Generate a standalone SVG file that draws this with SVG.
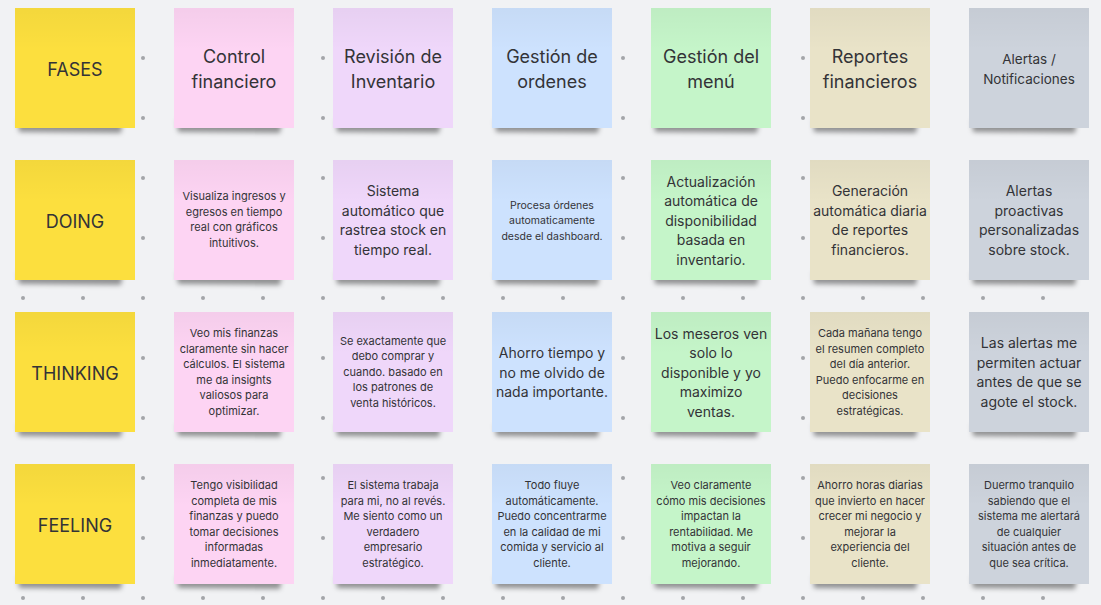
<svg xmlns="http://www.w3.org/2000/svg" width="1101" height="605" viewBox="0 0 1101 605">
<defs>
<pattern id="dots" x="23" y="58" width="60" height="60" patternUnits="userSpaceOnUse">
<circle cx="0" cy="0" r="2" fill="#a3a5a9"/>
<circle cx="60" cy="0" r="2" fill="#a3a5a9"/>
<circle cx="0" cy="60" r="2" fill="#a3a5a9"/>
<circle cx="60" cy="60" r="2" fill="#a3a5a9"/>
</pattern>
<filter id="blur" x="-20%" y="-200%" width="140%" height="500%"><feGaussianBlur stdDeviation="2.5"/></filter>
<linearGradient id="shade" x1="0" y1="0" x2="0" y2="1">
<stop offset="0" stop-color="#000" stop-opacity="0.035"/>
<stop offset="0.35" stop-color="#000" stop-opacity="0"/>
</linearGradient>
<g id="shadow"><path d="M3,112 L108,112 L106,125 L4,124 Z" fill="#000" fill-opacity="0.4" filter="url(#blur)"/></g>
</defs>
<style>
text{font-family:Inter,"Liberation Sans",Arial,sans-serif;fill:#333337;text-anchor:middle}
.h{font-size:18px}
.m{font-size:14px}
.s{font-size:11px}
.xs{font-size:10.5px}
.al{font-size:13.5px}
.y{fill:#fcdf3e}.p{fill:#fdd4f3}.l{fill:#efd7fa}.b{fill:#cde2fe}.g{fill:#c5f5c9}.e{fill:#e9e3c8}.k{fill:#cdd3dc}
</style>
<rect width="1101" height="605" fill="#f1f2f4"/>
<rect width="1101" height="605" fill="url(#dots)"/>
<g id="connectors"/>

<!-- Row 1 -->
<g id="n-fases" transform="translate(15,8)"><use href="#shadow"/><rect class="y" width="120" height="120"/><rect fill="url(#shade)" width="120" height="120"/><text class="h" x="60" y="67.5">FASES</text></g>
<g id="n-control" transform="translate(174,8)"><use href="#shadow"/><rect class="p" width="120" height="120"/><rect fill="url(#shade)" width="120" height="120"/><text class="h" x="60" y="55">Control</text><text class="h" x="60" y="80">financiero</text></g>
<g id="n-inventario" transform="translate(333,8)"><use href="#shadow"/><rect class="l" width="120" height="120"/><rect fill="url(#shade)" width="120" height="120"/><text class="h" x="60" y="55">Revisión de</text><text class="h" x="60" y="80">Inventario</text></g>
<g id="n-ordenes" transform="translate(492,8)"><use href="#shadow"/><rect class="b" width="120" height="120"/><rect fill="url(#shade)" width="120" height="120"/><text class="h" x="60" y="55">Gestión de</text><text class="h" x="60" y="80">ordenes</text></g>
<g id="n-menu" transform="translate(651,8)"><use href="#shadow"/><rect class="g" width="120" height="120"/><rect fill="url(#shade)" width="120" height="120"/><text class="h" x="60" y="55">Gestión del</text><text class="h" x="60" y="80">menú</text></g>
<g id="n-reportes" transform="translate(810,8)"><use href="#shadow"/><rect class="e" width="120" height="120"/><rect fill="url(#shade)" width="120" height="120"/><text class="h" x="60" y="55">Reportes</text><text class="h" x="60" y="80">financieros</text></g>
<g id="n-alertas" transform="translate(969,8)"><use href="#shadow"/><rect class="k" width="120" height="120"/><rect fill="url(#shade)" width="120" height="120"/><text class="al" x="60" y="56">Alertas /</text><text class="al" x="60" y="76">Notificaciones</text></g>

<!-- Row 2 DOING -->
<g id="n-doing" transform="translate(15,160)"><use href="#shadow"/><rect class="y" width="120" height="120"/><rect fill="url(#shade)" width="120" height="120"/><text class="h" x="60" y="67.5">DOING</text></g>
<g id="n-doing-control" transform="translate(174,160)"><use href="#shadow"/><rect class="p" width="120" height="120"/><rect fill="url(#shade)" width="120" height="120"/>
<text class="s" x="60" y="40">Visualiza ingresos y</text><text class="s" x="60" y="55.5">egresos en tiempo</text><text class="s" x="60" y="71">real con gráficos</text><text class="s" x="60" y="86.5">intuitivos.</text></g>
<g id="n-doing-inventario" transform="translate(333,160)"><use href="#shadow"/><rect class="l" width="120" height="120"/><rect fill="url(#shade)" width="120" height="120"/>
<text class="m" x="60" y="36">Sistema</text><text class="m" x="60" y="55.5">automático que</text><text class="m" x="60" y="75">rastrea stock en</text><text class="m" x="60" y="94.5">tiempo real.</text></g>
<g id="n-doing-ordenes" transform="translate(492,160)"><use href="#shadow"/><rect class="b" width="120" height="120"/><rect fill="url(#shade)" width="120" height="120"/>
<text class="xs" x="60" y="48.5">Procesa órdenes</text><text class="xs" x="60" y="64">automaticamente</text><text class="xs" x="60" y="79.5">desde el dashboard.</text></g>
<g id="n-doing-menu" transform="translate(651,160)"><use href="#shadow"/><rect class="g" width="120" height="120"/><rect fill="url(#shade)" width="120" height="120"/>
<text class="m" x="60" y="26.5">Actualización</text><text class="m" x="60" y="46">automática de</text><text class="m" x="60" y="65.5">disponibilidad</text><text class="m" x="60" y="85">basada en</text><text class="m" x="60" y="104.5">inventario.</text></g>
<g id="n-doing-reportes" transform="translate(810,160)"><use href="#shadow"/><rect class="e" width="120" height="120"/><rect fill="url(#shade)" width="120" height="120"/>
<text class="m" x="60" y="36">Generación</text><text class="m" x="60" y="55.5">automática diaria</text><text class="m" x="60" y="75">de reportes</text><text class="m" x="60" y="94.5">financieros.</text></g>
<g id="n-doing-alertas" transform="translate(969,160)"><use href="#shadow"/><rect class="k" width="120" height="120"/><rect fill="url(#shade)" width="120" height="120"/>
<text class="m" x="60" y="36">Alertas</text><text class="m" x="60" y="55.5">proactivas</text><text class="m" x="60" y="75">personalizadas</text><text class="m" x="60" y="94.5">sobre stock.</text></g>

<!-- Row 3 THINKING -->
<g id="n-thinking" transform="translate(15,312)"><use href="#shadow"/><rect class="y" width="120" height="120"/><rect fill="url(#shade)" width="120" height="120"/><text class="h" x="60" y="67.5">THINKING</text></g>
<g id="n-thinking-control" transform="translate(174,312)"><use href="#shadow"/><rect class="p" width="120" height="120"/><rect fill="url(#shade)" width="120" height="120"/>
<text class="s" x="60" y="25">Veo mis finanzas</text><text class="s" x="60" y="40.5">claramente sin hacer</text><text class="s" x="60" y="56">cálculos. El sistema</text><text class="s" x="60" y="71.5">me da insights</text><text class="s" x="60" y="87">valiosos para</text><text class="s" x="60" y="102.5">optimizar.</text></g>
<g id="n-thinking-inventario" transform="translate(333,312)"><use href="#shadow"/><rect class="l" width="120" height="120"/><rect fill="url(#shade)" width="120" height="120"/>
<text class="s" x="60" y="32.5">Se exactamente que</text><text class="s" x="60" y="48">debo comprar y</text><text class="s" x="60" y="63.5">cuando. basado en</text><text class="s" x="60" y="79">los patrones de</text><text class="s" x="60" y="94.5">venta históricos.</text></g>
<g id="n-thinking-ordenes" transform="translate(492,312)"><use href="#shadow"/><rect class="b" width="120" height="120"/><rect fill="url(#shade)" width="120" height="120"/>
<text class="m" x="60" y="46">Ahorro tiempo y</text><text class="m" x="60" y="65.5">no me olvido de</text><text class="m" x="60" y="85">nada importante.</text></g>
<g id="n-thinking-menu" transform="translate(651,312)"><use href="#shadow"/><rect class="g" width="120" height="120"/><rect fill="url(#shade)" width="120" height="120"/>
<text class="m" x="60" y="26.5">Los meseros ven</text><text class="m" x="60" y="46">solo lo</text><text class="m" x="60" y="65.5">disponible y yo</text><text class="m" x="60" y="85">maximizo</text><text class="m" x="60" y="104.5">ventas.</text></g>
<g id="n-thinking-reportes" transform="translate(810,312)"><use href="#shadow"/><rect class="e" width="120" height="120"/><rect fill="url(#shade)" width="120" height="120"/>
<text class="s" x="60" y="25">Cada mañana tengo</text><text class="s" x="60" y="40.5">el resumen completo</text><text class="s" x="60" y="56">del día anterior.</text><text class="s" x="60" y="71.5">Puedo enfocarme en</text><text class="s" x="60" y="87">decisiones</text><text class="s" x="60" y="102.5">estratégicas.</text></g>
<g id="n-thinking-alertas" transform="translate(969,312)"><use href="#shadow"/><rect class="k" width="120" height="120"/><rect fill="url(#shade)" width="120" height="120"/>
<text class="m" x="60" y="36">Las alertas me</text><text class="m" x="60" y="55.5">permiten actuar</text><text class="m" x="60" y="75">antes de que se</text><text class="m" x="60" y="94.5">agote el stock.</text></g>

<!-- Row 4 FEELING -->
<g id="n-feeling" transform="translate(15,464)"><use href="#shadow"/><rect class="y" width="120" height="120"/><rect fill="url(#shade)" width="120" height="120"/><text class="h" x="60" y="67.5">FEELING</text></g>
<g id="n-feeling-control" transform="translate(174,464)"><use href="#shadow"/><rect class="p" width="120" height="120"/><rect fill="url(#shade)" width="120" height="120"/>
<text class="s" x="60" y="25">Tengo visibilidad</text><text class="s" x="60" y="40.5">completa de mis</text><text class="s" x="60" y="56">finanzas y puedo</text><text class="s" x="60" y="71.5">tomar decisiones</text><text class="s" x="60" y="87">informadas</text><text class="s" x="60" y="102.5">inmediatamente.</text></g>
<g id="n-feeling-inventario" transform="translate(333,464)"><use href="#shadow"/><rect class="l" width="120" height="120"/><rect fill="url(#shade)" width="120" height="120"/>
<text class="s" x="60" y="25">El sistema trabaja</text><text class="s" x="60" y="40.5">para mi, no al revés.</text><text class="s" x="60" y="56">Me siento como un</text><text class="s" x="60" y="71.5">verdadero</text><text class="s" x="60" y="87">empresario</text><text class="s" x="60" y="102.5">estratégico.</text></g>
<g id="n-feeling-ordenes" transform="translate(492,464)"><use href="#shadow"/><rect class="b" width="120" height="120"/><rect fill="url(#shade)" width="120" height="120"/>
<text class="s" x="60" y="25">Todo fluye</text><text class="s" x="60" y="40.5">automáticamente.</text><text class="s" x="60" y="56">Puedo concentrarme</text><text class="s" x="60" y="71.5">en la calidad de mi</text><text class="s" x="60" y="87">comida y servicio al</text><text class="s" x="60" y="102.5">cliente.</text></g>
<g id="n-feeling-menu" transform="translate(651,464)"><use href="#shadow"/><rect class="g" width="120" height="120"/><rect fill="url(#shade)" width="120" height="120"/>
<text class="s" x="60" y="25">Veo claramente</text><text class="s" x="60" y="40.5">cómo mis decisiones</text><text class="s" x="60" y="56">impactan la</text><text class="s" x="60" y="71.5">rentabilidad. Me</text><text class="s" x="60" y="87">motiva a seguir</text><text class="s" x="60" y="102.5">mejorando.</text></g>
<g id="n-feeling-reportes" transform="translate(810,464)"><use href="#shadow"/><rect class="e" width="120" height="120"/><rect fill="url(#shade)" width="120" height="120"/>
<text class="s" x="60" y="25">Ahorro horas diarias</text><text class="s" x="60" y="40.5">que invierto en hacer</text><text class="s" x="60" y="56">crecer mi negocio y</text><text class="s" x="60" y="71.5">mejorar la</text><text class="s" x="60" y="87">experiencia del</text><text class="s" x="60" y="102.5">cliente.</text></g>
<g id="n-feeling-alertas" transform="translate(969,464)"><use href="#shadow"/><rect class="k" width="120" height="120"/><rect fill="url(#shade)" width="120" height="120"/>
<text class="s" x="60" y="25">Duermo tranquilo</text><text class="s" x="60" y="40.5">sabiendo que el</text><text class="s" x="60" y="56">sistema me alertará</text><text class="s" x="60" y="71.5">de cualquier</text><text class="s" x="60" y="87">situación antes de</text><text class="s" x="60" y="102.5">que sea crítica.</text></g>
</svg>
